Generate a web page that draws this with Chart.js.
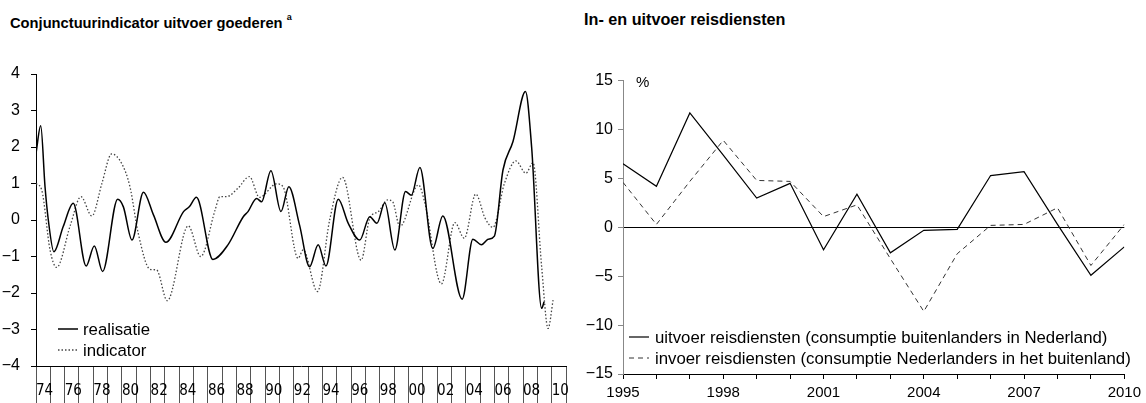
<!DOCTYPE html>
<html>
<head>
<meta charset="utf-8">
<script src="https://cdn.jsdelivr.net/npm/chart.js@4.4.0/dist/chart.umd.min.js"></script>
<style>
  body { margin: 0; background: #fff; font-family: "Liberation Sans", Arial, sans-serif; color: #000; }
  #wrap { position: relative; width: 1146px; height: 403px; overflow: hidden; }
  .panel { position: absolute; top: 0; width: 573px; height: 403px; }
  .title { position: absolute; top: 11px; font-weight: bold; font-size: 14.7px; line-height: 17px; white-space: nowrap; }
  .title sup { font-size: 9px; position: relative; top: -2px; }
  #pct { position: absolute; left: 636px; top: 73px; font-size: 15px; line-height: 17px; }
</style>
</head>
<body>
<div id="wrap">
  <div class="title" style="left:10px">Conjunctuurindicator uitvoer goederen <sup>a</sup></div>
  <div class="title" style="left:584px; font-size:16.2px">In- en uitvoer reisdiensten</div>
  <div class="panel" style="left:0"><canvas id="goodsChart" width="573" height="403"></canvas></div>
  <div class="panel" style="left:573px"><canvas id="travelChart" width="573" height="403"></canvas></div>
  <div id="pct">%</div>
</div>
<script>
// conjunctuurindicator: realisatie (year, value)
const realYears = [1974.0, 1974.33, 1974.63, 1974.86, 1975.25, 1975.9, 1976.6, 1977.5, 1978.07, 1978.65,
  1979.7, 1980.1, 1980.7, 1981.5, 1982.2, 1983.07, 1984.3, 1984.7, 1985.2, 1986.35,
  1987.4, 1988.47, 1988.8, 1989.4, 1989.75, 1990.4, 1991.1, 1991.65, 1992.4, 1993.1,
  1993.7, 1994.24, 1995.1, 1995.8, 1996.6, 1997.3, 1997.8, 1998.35, 1999.05, 1999.8,
  2000.2, 2000.8, 2001.7, 2002.4, 2003.75, 2004.5, 2005.1, 2005.56, 2006.0, 2006.6,
  2007.3, 2008.17, 2008.6, 2009.3, 2009.47];
const realValues = [1.83, 2.58, 0.91, 0.0, -0.87, -0.18, 0.46, -1.26, -0.71, -1.41,
  0.57, 0.36, -0.55, 0.76, 0.14, -0.61, 0.23, 0.36, 0.62, -1.08,
  -0.68, 0.09, 0.23, 0.59, 0.50, 1.35, 0.23, 0.91, -0.14, -1.28,
  -0.68, -1.26, 0.57, -0.09, -0.55, 0.09, -0.09, 0.47, -0.82, 0.78,
  0.68, 1.44, -0.78, 0.11, -2.17, -0.53, -0.68, -0.53, -0.44, 1.37,
  2.15, 3.52, 2.0, -2.42, -2.24];

// conjunctuurindicator: indicator (year, value)
const indYears = [1974.0, 1974.4, 1974.98, 1975.44, 1976.4, 1977.14, 1977.9, 1978.6, 1979.28, 1979.98,
  1980.56, 1981.14, 1981.96, 1982.42, 1983.16, 1984.63, 1985.5, 1986.5, 1986.84, 1987.3,
  1988.1, 1988.9, 1989.6, 1990.8, 1991.25, 1992.3, 1992.65, 1993.65, 1994.5, 1995.4,
  1996.7, 1997.3, 1997.9, 1998.55, 1998.9, 1999.4, 2000.7, 2001.15, 2002.3, 2003.24,
  2003.9, 2004.7, 2005.35, 2005.9, 2006.7, 2007.5, 2008.2, 2008.7, 2009.3, 2009.75, 2010.1];
const indValues = [1.0, 0.82, -0.82, -1.30, -0.14, 0.64, 0.11, 1.0, 1.81, 1.55,
  0.91, -0.37, -1.35, -1.37, -2.21, -0.16, -1.0, 0.27, 0.64, 0.64,
  0.87, 1.19, 0.62, 0.99, 0.91, -1.05, -0.82, -1.96, 0.0, 1.17,
  -1.10, 0.05, 0.23, 0.55, 0.50, -0.18, 0.96, 0.46, -1.75, -0.07,
  -0.50, 0.71, 0.05, -0.2, 1.0, 1.62, 1.28, 1.57, -1.28, -2.97, -2.19];

// reisdiensten, volumemutaties in %
const travelYears = [1995, 1996, 1997, 1998, 1999, 2000, 2001, 2002, 2003, 2004, 2005, 2006, 2007, 2008, 2009, 2010];
const exportTravel = [6.5, 4.2, 11.7, 7.4, 3.0, 4.5, -2.3, 3.4, -2.6, -0.3, -0.2, 5.3, 5.7, 0.3, -4.9, -2.0];
const importTravel = [4.6, 0.3, 4.7, 8.9, 4.8, 4.7, 1.1, 2.3, -3.2, -8.6, -2.7, 0.2, 0.3, 2.0, -3.9, 0.3];

const goodsTicks = [-4, -3, -2, -1, 0, 1, 2, 3, 4];
const travelLabelYears = [1995, 1998, 2001, 2004, 2007, 2010];

const toPoints = (xs, ys) => xs.map((x, i) => ({ x: x, y: ys[i] }));
const signed = (v) => v < 0 ? '\u2212' + Math.abs(v) : String(v);

Chart.defaults.font.family = '"Liberation Sans", Arial, sans-serif';
Chart.defaults.color = '#000';
Chart.defaults.animation = false;

// legend drawn inside the plot area
const insideLegend = {
  id: 'insideLegend',
  afterDraw(chart, args, opts) {
    const ctx = chart.ctx;
    ctx.save();
    ctx.font = opts.font;
    ctx.textBaseline = 'middle';
    chart.data.datasets.forEach((ds, i) => {
      const y = opts.y + i * opts.rowHeight;
      ctx.beginPath();
      ctx.setLineDash(ds.borderDash || []);
      ctx.strokeStyle = ds.borderColor;
      ctx.lineWidth = ds.borderWidth;
      ctx.moveTo(opts.x, y);
      ctx.lineTo(opts.x + opts.lineLength, y);
      ctx.stroke();
      ctx.setLineDash([]);
      ctx.fillStyle = '#000';
      ctx.fillText(ds.label, opts.x + opts.lineLength + opts.gap, y + 1);
    });
    ctx.restore();
  }
};

const legendFont = '16.8px "Liberation Sans", Arial, sans-serif';

// ----- Conjunctuurindicator -----
new Chart(document.getElementById('goodsChart'), {
  type: 'line',
  data: {
    datasets: [{
      label: 'realisatie',
      data: toPoints(realYears, realValues),
      borderColor: '#000',
      borderWidth: 1.5,
      pointRadius: 0,
      cubicInterpolationMode: 'monotone'
    }, {
      label: 'indicator',
      data: toPoints(indYears, indValues),
      borderColor: '#444',
      borderWidth: 1.3,
      borderDash: [1.5, 2],
      pointRadius: 0,
      cubicInterpolationMode: 'monotone'
    }]
  },
  options: {
    responsive: false,
    layout: { padding: { top: 74, right: 7, left: 0, bottom: 0 } },
    plugins: {
      legend: { display: false },
      tooltip: { enabled: false },
      insideLegend: { x: 58, y: 329, rowHeight: 21, lineLength: 20, gap: 5, font: legendFont }
    },
    scales: {
      x: {
        type: 'linear',
        min: 1974,
        max: 2011,
        afterFit: (s) => { s.height = 37; },
        border: { color: '#000', width: 1 },
        grid: { drawOnChartArea: false, tickLength: 37, color: '#555' },
        ticks: {
          stepSize: 1,
          autoSkip: false,
          maxRotation: 0,
          align: 'start',
          padding: -21,
          font: { family: '"Liberation Sans Narrow", "DejaVu Sans Condensed", sans-serif', size: 15 },
          callback: (v) => (v % 2 === 0 && v < 2011) ? String(v).slice(2) : ''
        }
      },
      y: {
        min: -4,
        max: 4,
        afterFit: (s) => { s.width = 36; },
        afterBuildTicks: (s) => { s.ticks = goodsTicks.map(v => ({ value: v })); },
        border: { color: '#000', width: 1 },
        grid: { drawOnChartArea: false, tickLength: 5, color: '#000' },
        ticks: { padding: 11, font: { size: 16 }, callback: signed }
      }
    }
  },
  plugins: [insideLegend]
});

// ----- In- en uitvoer reisdiensten -----
new Chart(document.getElementById('travelChart'), {
  type: 'line',
  data: {
    datasets: [{
      label: 'uitvoer reisdiensten (consumptie buitenlanders in Nederland)',
      data: toPoints(travelYears, exportTravel),
      borderColor: '#000',
      borderWidth: 1.2,
      pointRadius: 0,
      tension: 0
    }, {
      label: 'invoer reisdiensten (consumptie Nederlanders in het buitenland)',
      data: toPoints(travelYears, importTravel),
      borderColor: '#333',
      borderWidth: 1,
      borderDash: [5, 4],
      pointRadius: 0,
      tension: 0
    }]
  },
  options: {
    responsive: false,
    layout: { padding: { top: 80.7, right: 20, left: 0, bottom: 0 } },
    plugins: {
      legend: { display: false },
      tooltip: { enabled: false },
      insideLegend: { x: 56, y: 337, rowHeight: 21, lineLength: 20, gap: 6, font: legendFont }
    },
    scales: {
      x: {
        type: 'linear',
        min: 1995,
        max: 2010,
        afterFit: (s) => { s.height = 29; },
        border: { color: '#000', width: 1 },
        grid: { drawOnChartArea: false, tickLength: 5, color: '#000' },
        ticks: {
          stepSize: 1,
          autoSkip: false,
          maxRotation: 0,
          padding: 5,
          font: { size: 15 },
          callback: (v) => travelLabelYears.includes(v) ? String(v) : ''
        }
      },
      y: {
        min: -15,
        max: 15,
        afterFit: (s) => { s.width = 50; },
        border: { color: '#888', width: 1 },
        grid: {
          tickLength: 5,
          color: (c) => c.tick && c.tick.value === 0 ? '#000' : 'rgba(0,0,0,0)',
          tickColor: '#888'
        },
        ticks: { stepSize: 5, padding: 5, font: { size: 16 }, callback: signed }
      }
    }
  },
  plugins: [insideLegend]
});
</script>
</body>
</html>
